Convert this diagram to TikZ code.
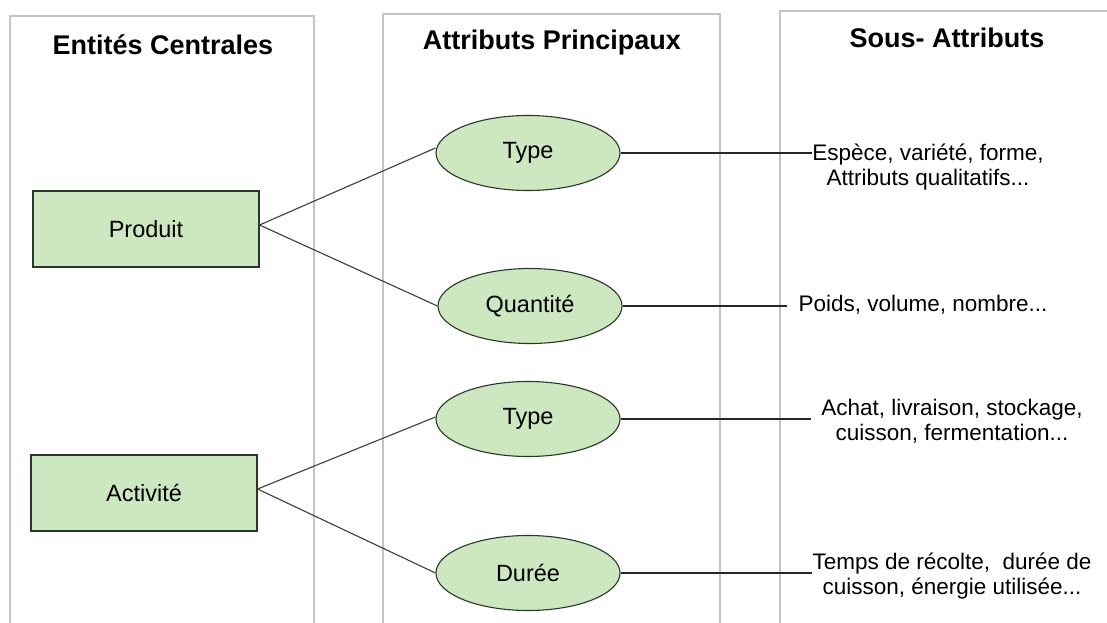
\documentclass[tikz,border=0pt]{standalone}
\usepackage{fontspec}
\setmainfont{Liberation Sans}
\usetikzlibrary{shapes.geometric}
\definecolor{boxgreen}{RGB}{205,232,192}
\definecolor{boxedge}{RGB}{40,56,40}
\definecolor{colgray}{RGB}{196,196,196}
\definecolor{linkgray}{RGB}{60,60,60}
\tikzset{
  column/.style={draw=colgray, line width=1.2pt},
  header/.style={font=\fontsize{27}{31}\selectfont\bfseries, inner sep=0pt},
  entity/.style={draw=boxedge, fill=boxgreen, line width=1.1pt,
    minimum width=226pt, minimum height=76pt, inner sep=0pt,
    font=\fontsize{23.5}{27}\selectfont},
  attribute/.style={ellipse, draw=boxedge, fill=boxgreen, line width=1.1pt,
    minimum width=184pt, minimum height=75pt, inner sep=0pt,
    font=\fontsize{23.5}{27}\selectfont},
  subattr/.style={align=center, inner sep=0pt,
    font=\fontsize{22.5}{25}\selectfont},
  link/.style={draw=linkgray, line width=1.1pt},
  leader/.style={draw=black!85, line width=1.2pt}
}
\begin{document}
\begin{tikzpicture}[x=1pt,y=-1pt]
  \useasboundingbox (0,0) rectangle (1107,623);
  \fill[white] (0,0) rectangle (1107,623);
  \begin{scope}
    \clip (0,0) rectangle (1107,623);
    % three column frames, open at the bottom
    \draw[column] (10,630) -- (10,16) -- (314,16) -- (314,630);
    \draw[column] (383,630) -- (383,14) -- (720,14) -- (720,630);
    \draw[column] (780,630) -- (780,11) -- (1115,11);
  \end{scope}

  % column titles
  \node[header] (h1) at (163,45) {Entités Centrales};
  \node[header] (h2) at (552,43) {Attributs Principaux};
  \node[header] (h3) at (947,38) {Sous- Attributs};

  % central entities
  \node[entity] (prod) at (146,229) {Produit};
  \node[entity] (act)  at (144,493) {Activité};

  % main attributes
  \node[attribute] (type1) at (528,153) {Type};
  \node[attribute] (qte)   at (530,306) {Quantité};
  \node[attribute] (type2) at (528,419) {Type};
  \node[attribute] (duree) at (528,573) {Durée};

  % sub-attributes
  \node[subattr] (s1) at (928,167) {Espèce, variété, forme,\\Attributs qualitatifs...};
  \node[subattr] (s2) at (923,305) {Poids, volume, nombre...};
  \node[subattr] (s3) at (952,421) {Achat, livraison, stockage,\\cuisson, fermentation...};
  \node[subattr] (s4) at (952,576) {Temps de récolte,\ \ durée de\\cuisson, énergie utilisée...};

  % entity to attribute links
  \draw[link] ([yshift=4pt]prod.east) -- ([yshift=5pt]type1.west);
  \draw[link] ([yshift=4pt]prod.east) -- (qte.west);
  \draw[link] ([yshift=4pt]act.east) -- ([yshift=2pt]type2.west);
  \draw[link] ([yshift=4pt]act.east) -- (duree.west);

  % attribute to sub-attribute leaders
  \draw[leader] (type1.east) -- (type1.east -| s1.west);
  \draw[leader] (qte.east) -- ([xshift=-11pt]qte.east -| s2.west);
  \draw[leader] (type2.east) -- ([xshift=-10pt]type2.east -| s3.west);
  \draw[leader] (duree.east) -- (duree.east -| s4.west);
\end{tikzpicture}
\end{document}
